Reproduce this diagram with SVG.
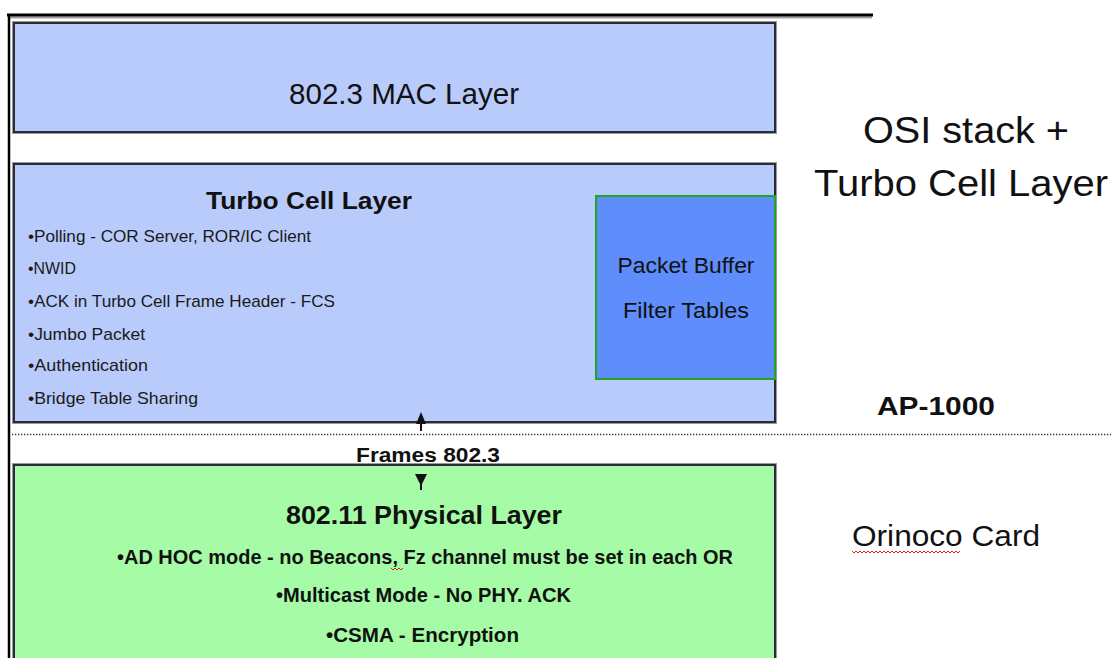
<svg xmlns="http://www.w3.org/2000/svg" width="1111" height="658" viewBox="0 0 1111 658">
  <style>
    .layer { stroke: #2a2a3a; stroke-width: 2; }
    .halo { fill: none; stroke: #9a9a9a; stroke-width: 4; }
    .mac { fill: #b9cbfb; }
    .phy { fill: #a6fca6; }
    .buf { fill: #5f8dfb; stroke: #1fa51f; stroke-width: 2; }
    .sans { font-family: "Liberation Sans", Arial, sans-serif; fill: #111; }
    .bold { font-weight: bold; }
    .item { font-size: 17px; fill: #1a1a1a; }
    .phyitem { font-size: 21px; font-weight: bold; }
    .squiggle { fill: none; stroke: #e02020; stroke-width: 1; }
  </style>

  <rect width="1111" height="658" fill="#ffffff"/>

  <!-- frame: top rule and left rule -->
  <g id="frame">
    <line x1="8" y1="17.5" x2="872" y2="17.5" stroke="#a0a0a0" stroke-width="2"/>
    <line x1="7" y1="15" x2="873" y2="15" stroke="#000" stroke-width="3"/>
    <line x1="9" y1="14" x2="9" y2="658" stroke="#000" stroke-width="2.5"/>
  </g>

  <!-- AP-1000 / Orinoco boundary -->
  <line id="boundary" x1="12" y1="434.5" x2="1111" y2="434.5" stroke="#333" stroke-width="1.3" stroke-dasharray="1.3,1.7"/>

  <g id="mac-layer">
    <rect class="halo" x="14" y="23" width="761" height="109"/>
    <rect class="layer mac" x="14" y="23" width="761" height="109"/>
    <text class="sans" x="404" y="104" font-size="30" fill="#2a2a2a" text-anchor="middle" textLength="230" lengthAdjust="spacingAndGlyphs">802.3 MAC Layer</text>
  </g>

  <g id="turbo-cell-layer">
    <rect class="halo" x="14" y="164" width="761" height="258"/>
    <rect class="layer mac" x="14" y="164" width="761" height="258"/>
    <text class="sans bold" x="309" y="209" font-size="24" text-anchor="middle" textLength="206" lengthAdjust="spacingAndGlyphs">Turbo Cell Layer</text>
    <text class="sans item" x="28" y="242" textLength="283" lengthAdjust="spacingAndGlyphs">•Polling - COR Server, ROR/IC Client</text>
    <text class="sans item" x="28" y="274" textLength="48" lengthAdjust="spacingAndGlyphs">•NWID</text>
    <text class="sans item" x="28" y="307" textLength="307" lengthAdjust="spacingAndGlyphs">•ACK in Turbo Cell Frame Header - FCS</text>
    <text class="sans item" x="28" y="340" textLength="117" lengthAdjust="spacingAndGlyphs">•Jumbo Packet</text>
    <text class="sans item" x="28" y="371" textLength="120" lengthAdjust="spacingAndGlyphs">•Authentication</text>
    <text class="sans item" x="28" y="404" textLength="170" lengthAdjust="spacingAndGlyphs">•Bridge Table Sharing</text>
  </g>

  <g id="packet-buffer">
    <rect class="buf" x="596" y="196" width="179" height="183"/>
    <text class="sans" x="686" y="273" font-size="22" fill="#e6eefc" text-anchor="middle" textLength="137" lengthAdjust="spacingAndGlyphs">Packet Buffer</text>
    <text class="sans" x="686" y="318" font-size="22" fill="#e6eefc" text-anchor="middle" textLength="126" lengthAdjust="spacingAndGlyphs">Filter Tables</text>
  </g>

  <g id="physical-layer">
    <rect class="halo" x="14" y="465" width="761" height="200"/>
    <rect class="layer phy" x="14" y="465" width="761" height="200"/>
    <text class="sans bold" x="424" y="524" font-size="26" text-anchor="middle" textLength="276" lengthAdjust="spacingAndGlyphs">802.11 Physical Layer</text>
    <text class="sans phyitem" x="117" y="564" textLength="616" lengthAdjust="spacingAndGlyphs">•AD HOC mode - no Beacons, Fz channel must be set  in each OR</text>
    <polyline class="squiggle" points="391,568 393,570 395,568 397,570 399,568 401,570 403,568"/>
    <text class="sans phyitem" x="276" y="602" textLength="295" lengthAdjust="spacingAndGlyphs">•Multicast Mode - No PHY. ACK</text>
    <text class="sans phyitem" x="326" y="642" textLength="193" lengthAdjust="spacingAndGlyphs">•CSMA  - Encryption</text>
  </g>

  <!-- frame flow between the layers -->
  <g id="connectors">
    <line x1="421" y1="431" x2="421" y2="416" stroke="#111" stroke-width="2"/>
    <polygon points="421,412 416,424 426,424" fill="#111"/>
    <line x1="421" y1="474" x2="421" y2="490" stroke="#111" stroke-width="2"/>
    <polygon points="415,474 427,474 421,486" fill="#111"/>
  </g>

  <g id="frames-label">
    <text class="sans bold" x="428" y="462" font-size="20" text-anchor="middle" textLength="144" lengthAdjust="spacingAndGlyphs">Frames 802.3</text>
  </g>

  <g id="stack-title">
    <text class="sans" x="966" y="143" font-size="36" text-anchor="middle" textLength="206" lengthAdjust="spacingAndGlyphs">OSI stack +</text>
    <text class="sans" x="961" y="196" font-size="36" text-anchor="middle" textLength="294" lengthAdjust="spacingAndGlyphs">Turbo Cell Layer</text>
  </g>

  <g id="ap-label">
    <text class="sans bold" x="936" y="415" font-size="26" text-anchor="middle" textLength="118" lengthAdjust="spacingAndGlyphs">AP-1000</text>
  </g>

  <g id="card-label">
    <text class="sans" x="946" y="546" font-size="29" text-anchor="middle" textLength="188" lengthAdjust="spacingAndGlyphs">Orinoco Card</text>
    <polyline class="squiggle" points="852,551 854,553 856,551 858,553 860,551 862,553 864,551 866,553 868,551 870,553 872,551 874,553 876,551 878,553 880,551 882,553 884,551 886,553 888,551 890,553 892,551 894,553 896,551 898,553 900,551 902,553 904,551 906,553 908,551 910,553 912,551 914,553 916,551 918,553 920,551 922,553 924,551 926,553 928,551 930,553 932,551 934,553 936,551 938,553 940,551 942,553 944,551 946,553 948,551 950,553 952,551 954,553 956,551 958,553 960,551"/>
  </g>
</svg>
